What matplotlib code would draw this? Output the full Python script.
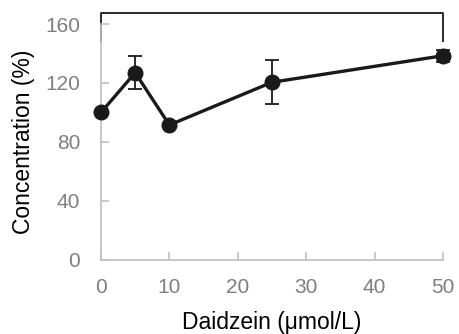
import matplotlib
matplotlib.use("Agg")
import matplotlib.pyplot as plt

plt.rcParams["font.family"] = ["Liberation Sans", "DejaVu Sans"]

dose = [0, 5, 10, 25, 50]
conc = [100, 127, 91.5, 120.5, 138.5]
err = [0, 11, 0, 15, 4]
bracket_y = [148, 167.5, 167.5, 148]
bracket_x = [0, 0, 50, 50]
yticks = [0, 40, 80, 120, 160]
xticks = [0, 10, 20, 30, 40, 50]

gray = "#bfbfbf"
tick_gray = "#7f7f7f"

fig = plt.figure(figsize=(4.59, 3.34), dpi=100)
ax = fig.add_axes([0.22, 0.222, 0.745, 0.706])

ax.plot(bracket_x, bracket_y, color="#1a1a1a", lw=1.3, clip_on=False, solid_capstyle="butt")
ax.errorbar(dose, conc, yerr=err, color="#1a1a1a", lw=2.4, marker="o", ms=10.5,
            capsize=5, elinewidth=1.3, capthick=1.3, clip_on=False, zorder=3)

ax.set_xlim(0, 50)
ax.set_ylim(0, 160)
ax.set_xticks(xticks)
ax.set_yticks(yticks)
for s in ["top", "right"]:
    ax.spines[s].set_visible(False)
for s in ["left", "bottom"]:
    ax.spines[s].set_color(gray)
    ax.spines[s].set_linewidth(1.2)
ax.tick_params(direction="in", color=gray, length=6, width=1.2, labelcolor=tick_gray,
               labelsize=15)
ax.tick_params(axis="x", pad=13)
ax.tick_params(axis="y", pad=15)
ax.set_xlabel("Daidzein (\u03bcmol/L)", fontsize=16.5, labelpad=10)
ax.set_ylabel("Concentration (%)", fontsize=16.5, labelpad=7)

fig.savefig("out.png", dpi=100)
